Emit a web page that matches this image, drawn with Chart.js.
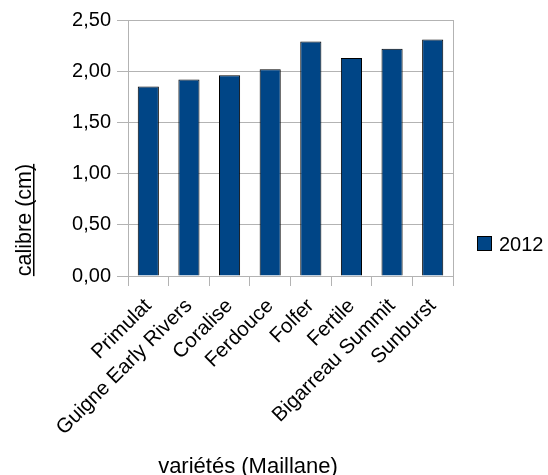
<!DOCTYPE html>
<html>
<head>
<meta charset="utf-8">
<script src="https://cdn.jsdelivr.net/npm/chart.js@4"></script>
<style>
html,body{margin:0;padding:0;background:#fff;}
#wrap{width:548px;height:475px;position:relative;}
</style>
</head>
<body>
<div id="wrap"><canvas id="c" width="548" height="475"></canvas></div>
<script>
const categories = ["Primulat","Guigne Early Rivers","Coralise","Ferdouce","Folfer","Fertile","Bigarreau Summit","Sunburst"];
const values2012 = [1.85,1.92,1.96,2.02,2.29,2.13,2.22,2.31];
const seriesName = "2012";
const yTitle = "calibre (cm)";
const xTitle = "variétés (Maillane)";

const FONT = "'Liberation Sans', Arial, sans-serif";
const GRID = "#b3b3b3";

const extras = {
  id: 'extras',
  afterDraw(chart) {
    const ctx = chart.ctx;
    const a = chart.chartArea;
    ctx.save();
    // right border
    ctx.strokeStyle = GRID;
    ctx.lineWidth = 1;
    ctx.beginPath();
    ctx.moveTo(Math.round(a.right) + 0.5, a.top);
    ctx.lineTo(Math.round(a.right) + 0.5, a.bottom);
    ctx.stroke();
    // y title, rotated & underlined
    ctx.fillStyle = "#000";
    ctx.font = "21.5px " + FONT;
    ctx.save();
    ctx.translate(31, 220);
    ctx.rotate(-Math.PI / 2);
    ctx.textAlign = "center";
    ctx.textBaseline = "alphabetic";
    ctx.fillText(yTitle, 0, 0);
    const w = ctx.measureText(yTitle).width;
    ctx.fillRect(-w / 2, 2, w, 1.5);
    ctx.restore();
    // x title
    ctx.font = "22px " + FONT;
    ctx.textAlign = "center";
    ctx.textBaseline = "alphabetic";
    ctx.fillText(xTitle, 248, 473);
    // legend
    const ds = chart.data.datasets[0];
    ctx.fillStyle = ds.backgroundColor;
    ctx.fillRect(477, 236, 15, 15);
    ctx.strokeStyle = "#000";
    ctx.lineWidth = 1;
    ctx.strokeRect(477.5, 236.5, 14, 14);
    ctx.fillStyle = "#000";
    ctx.font = "20px " + FONT;
    ctx.textAlign = "left";
    ctx.textBaseline = "middle";
    ctx.fillText(ds.label, 499, 245);
    ctx.restore();
  }
};

new Chart(document.getElementById('c'), {
  type: 'bar',
  data: {
    labels: categories,
    datasets: [{
      label: seriesName,
      data: values2012,
      backgroundColor: '#004586',
      borderColor: '#000000',
      borderWidth: 1,
      barPercentage: 0.52,
      categoryPercentage: 1.0
    }]
  },
  options: {
    responsive: false,
    animation: false,
    devicePixelRatio: 1,
    layout: { padding: { top: 20, right: 95, bottom: 0, left: 0 } },
    plugins: { legend: { display: false }, tooltip: { enabled: false }, title: { display: false } },
    scales: {
      x: {
        grid: { display: true, drawOnChartArea: false, drawTicks: true, tickLength: 10, color: GRID, offset: true },
        border: { display: true, color: GRID },
        ticks: { color: '#000', font: { family: FONT, size: 20.5 }, minRotation: 45, maxRotation: 45, autoSkip: false, padding: 8 },
        afterFit(s) { s.height = 199; }
      },
      y: {
        min: 0, max: 2.5,
        grid: { color: GRID, tickLength: 11 },
        border: { display: true, color: GRID },
        ticks: {
          stepSize: 0.5, color: '#000', font: { family: FONT, size: 20 }, padding: 6,
          callback: v => v.toFixed(2).replace('.', ',')
        },
        afterFit(s) { s.width = 128; }
      }
    }
  },
  plugins: [extras]
});
</script>
</body>
</html>
